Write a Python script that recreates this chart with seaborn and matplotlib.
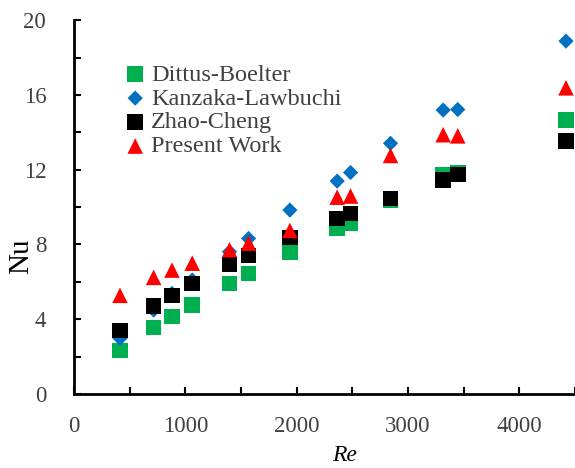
import numpy as np
import pandas as pd
import matplotlib
matplotlib.use("Agg")
import matplotlib.pyplot as plt
import seaborn as sns
from matplotlib.ticker import MultipleLocator

re_vals = [413, 715, 880, 1062, 1397, 1568, 1939, 2364, 2484, 2843, 3316, 3447, 4419]
dittus = [2.32, 3.55, 4.14, 4.76, 5.92, 6.45, 7.61, 8.86, 9.16, 10.38, 11.75, 11.85, 14.65]
kanzaka = [2.98, 4.49, 5.38, 6.10, 7.61, 8.32, 9.84, 11.39, 11.85, 13.41, 15.19, 15.22, 18.88]
zhao = [3.39, 4.71, 5.28, 5.92, 6.93, 7.40, 8.38, 9.39, 9.66, 10.45, 11.44, 11.75, 13.53]
present = [5.28, 6.24, 6.63, 7.00, 7.72, 8.07, 8.75, 10.53, 10.59, 12.76, 13.87, 13.81, 16.38]

series_names = ["Dittus-Boelter", "Kanzaka-Lawbuchi", "Zhao-Cheng", "Present Work"]
x_ticks = [0, 1000, 2000, 3000, 4000]
y_ticks = [0, 4, 8, 12, 16, 20]

sns.set_theme(style="white")
plt.rcParams['font.family'] = ['Liberation Serif', 'DejaVu Serif']

fig = plt.figure(figsize=(5.75, 4.68), dpi=100)
ax = fig.add_axes([0.1287, 0.158, 0.8713, 0.799])

styles = [
    (dittus, "s", "#00B050", 125),
    (kanzaka, "D", "#0070C0", 60),
    (zhao, "s", "#000000", 125),
    (present, "^", "#FF0000", 125),
]
for name, (vals, mk, col, sz) in zip(series_names, styles):
    df = pd.DataFrame({"Re": re_vals, "Nu": vals})
    sns.scatterplot(data=df, x="Re", y="Nu", marker=mk, color=col, s=sz,
                    edgecolor="none", linewidth=0, label=name, ax=ax, zorder=3)

ax.set_xlim(0, 4500)
ax.set_ylim(0, 20)
ax.set_xticks(x_ticks)
ax.set_yticks(y_ticks)
ax.xaxis.set_minor_locator(MultipleLocator(500))
ax.yaxis.set_minor_locator(MultipleLocator(2))
ax.tick_params(which="both", direction="in", length=5, width=1.5, color="black",
               labelsize=16.5, labelcolor="#404040", bottom=True, left=True)
ax.tick_params(axis="x", pad=16)
ax.tick_params(axis="y", pad=20)

for s in ["top", "right"]:
    ax.spines[s].set_visible(False)
for s in ["left", "bottom"]:
    ax.spines[s].set_color("black")
    ax.spines[s].set_linewidth(2)

ax.set_xlabel("Re", fontsize=17, style="italic", color="black")
ax.set_ylabel("Nu", fontsize=21, color="black")
ax.xaxis.set_label_coords(0.54, -0.135)
ax.yaxis.set_label_coords(-0.08, 0.37)

leg = ax.legend(loc="upper left", bbox_to_anchor=(0.195, 0.885), bbox_transform=fig.transFigure,
                frameon=False, fontsize=17.5, handletextpad=0.1, labelspacing=0.08,
                borderaxespad=0, handlelength=1.1)
for t in leg.get_texts():
    t.set_color("#404040")

fig.savefig("out.png", dpi=100)
